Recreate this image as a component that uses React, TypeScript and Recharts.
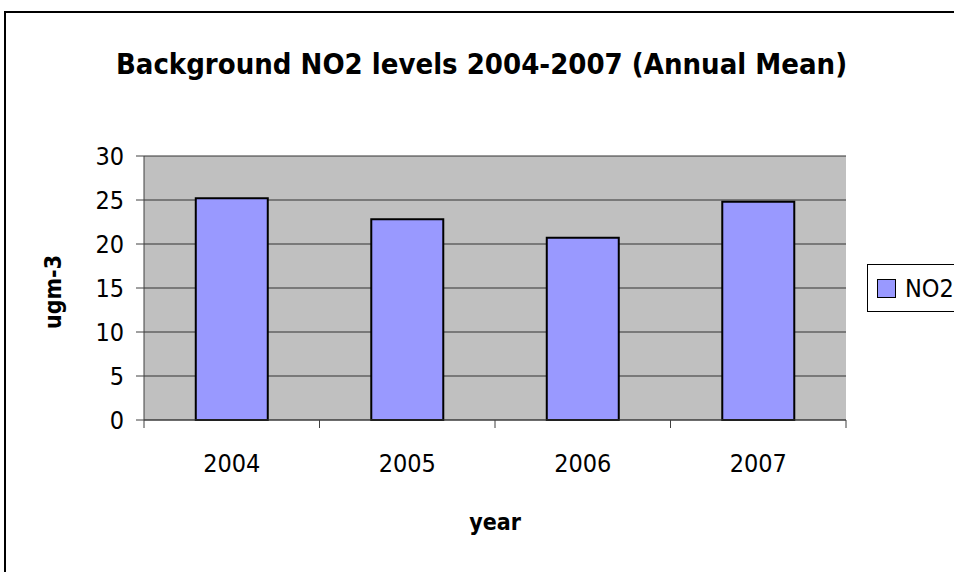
import React from 'react'
import { BarChart, Bar, XAxis, YAxis, CartesianGrid, Legend } from 'recharts'

const years = ['2004', '2005', '2006', '2007']
const no2Values = [25.2, 22.8, 20.7, 24.8]
const yTicks = [0, 5, 10, 15, 20, 25, 30]

const data = years.map((year, i) => ({ year, NO2: no2Values[i] }))

const FONT = '"DejaVu Sans Condensed", "DejaVu Sans", sans-serif'
const BAR_FILL = '#9999FF'

// x ticks: label at the category centre, tick mark on the category edges
const XTick = (props: any) => {
  const { x, y, payload, index } = props
  const half = payload.offset || 0
  const top = y - 8
  return (
    <g>
      {index === 0 && <line x1={x - half} x2={x - half} y1={top} y2={y} stroke="#404040" />}
      <line x1={x + half} x2={x + half} y1={top} y2={y} stroke="#404040" />
      <text x={x} y={y + 44} textAnchor="middle" fontFamily={FONT} fontSize={25} fill="#000">
        {payload.value}
      </text>
    </g>
  )
}

const YLabel = (props: any) => {
  const { viewBox } = props
  const cx = viewBox.x + 53
  const cy = viewBox.y + viewBox.height / 2 + 4
  return (
    <text
      x={cx}
      y={cy}
      transform={`rotate(-90, ${cx}, ${cy})`}
      textAnchor="middle"
      dominantBaseline="central"
      fontFamily={FONT}
      fontWeight="bold"
      fontSize={23}
      fill="#000"
    >
      ugm-3
    </text>
  )
}

const LegendBox = () => (
  <div
    style={{
      width: 95,
      height: 48,
      border: '1px solid #000',
      background: '#fff',
      boxSizing: 'border-box',
      display: 'flex',
      alignItems: 'center',
      fontFamily: FONT,
      fontSize: 25,
      color: '#000',
    }}
  >
    <span
      style={{
        display: 'inline-block',
        width: 17,
        height: 17,
        background: BAR_FILL,
        border: '1.5px solid #000',
        marginLeft: 9,
        marginRight: 9,
      }}
    />
    NO2
  </div>
)

export default function App() {
  return (
    <div style={{ position: 'absolute', left: 0, top: 0, width: 954, height: 572, background: '#fff', overflow: 'hidden' }}>
      {/* outer chart border, runs off the right and bottom edge */}
      <div
        style={{
          position: 'absolute',
          left: 4,
          top: 11,
          width: 1000,
          height: 600,
          border: '2px solid #000',
        }}
      />
      <div
        style={{
          position: 'absolute',
          left: 0,
          top: 46,
          width: 963,
          textAlign: 'center',
          fontFamily: FONT,
          fontWeight: 'bold',
          fontSize: 29,
          color: '#000',
          lineHeight: '36px',
        }}
      >
        Background NO2 levels 2004-2007 (Annual Mean)
      </div>
      <div style={{ position: 'absolute', left: 0, top: 0 }}>
        <BarChart
          width={954}
          height={572}
          data={data}
          margin={{ top: 156, right: 108, bottom: 122, left: 0 }}
          barCategoryGap="29.5%"
        >
          <CartesianGrid vertical={false} fill="#C0C0C0" stroke="#333" strokeOpacity={1} />
          <XAxis
            dataKey="year"
            height={30}
            axisLine={{ stroke: '#404040' }}
            tickLine={false}
            tickSize={8}
            tickMargin={0}
            tick={<XTick />}
            interval={0}
            label={{
              value: 'year',
              position: 'insideBottom',
              offset: -80,
              fontFamily: FONT,
              fontWeight: 'bold',
              fontSize: 23,
              fill: '#000',
            }}
          />
          <YAxis
            width={144}
            domain={[0, 30]}
            ticks={yTicks}
            interval={0}
            axisLine={{ stroke: '#404040' }}
            tickLine={{ stroke: '#404040' }}
            tickSize={8}
            tickMargin={12}
            tick={{ fontFamily: FONT, fontSize: 25, fill: '#000' }}
            label={<YLabel />}
          />
          <YAxis
            yAxisId="frame"
            orientation="right"
            width={0}
            domain={[0, 30]}
            tick={false}
            tickLine={false}
            axisLine={{ stroke: '#808080' }}
          />
          <Legend
            layout="vertical"
            align="center"
            verticalAlign="middle"
            wrapperStyle={{ left: 867, top: 264, width: 95 }}
            content={<LegendBox />}
          />
          <Bar dataKey="NO2" fill={BAR_FILL} stroke="#000" strokeWidth={2} isAnimationActive={false} />
        </BarChart>
      </div>
    </div>
  )
}
